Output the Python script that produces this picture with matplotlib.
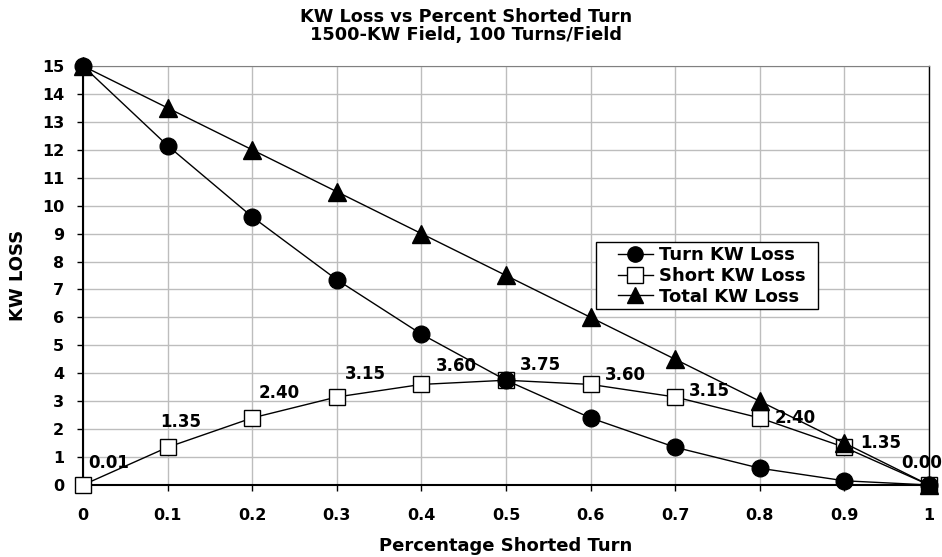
import matplotlib
matplotlib.use('Agg')
import matplotlib.pyplot as plt
from matplotlib.patches import Rectangle

# data
pct_shorted = [0.0, 0.1, 0.2, 0.3, 0.4, 0.5, 0.6, 0.7, 0.8, 0.9, 1.0]
turn_kw = [15.0, 12.15, 9.60, 7.35, 5.40, 3.75, 2.40, 1.35, 0.60, 0.15, 0.0]
short_kw = [0.0, 1.35, 2.40, 3.15, 3.60, 3.75, 3.60, 3.15, 2.40, 1.35, 0.0]
total_kw = [15.0, 13.5, 12.0, 10.5, 9.0, 7.5, 6.0, 4.5, 3.0, 1.5, 0.0]
short_labels = ['0.01', '1.35', '2.40', '3.15', '3.60', '3.75', '3.60', '3.15', '2.40', '1.35', '0.00']
x_ticks = [0, 0.1, 0.2, 0.3, 0.4, 0.5, 0.6, 0.7, 0.8, 0.9, 1]
x_tick_labels = ['0', '0.1', '0.2', '0.3', '0.4', '0.5', '0.6', '0.7', '0.8', '0.9', '1']

# label offsets in pixels (left edge, vertical centre) relative to each point
label_offsets = [(5, 22), (-7, 25), (6, 25), (8, 23), (14, 18), (14, 15),
                 (14, 9), (14, 6), (15, 0), (16, 4), (-28, 22)]

plt.rcParams['font.family'] = ['DejaVu Sans']
plt.rcParams['font.weight'] = 'bold'

fig = plt.figure(figsize=(9.42, 5.57), dpi=100)
ax = fig.add_axes([0.0881, 0.1293, 0.8981, 0.7522])

ax.plot(pct_shorted, short_kw, color='black', lw=1, marker='s', ms=11.5,
        mfc='white', mec='black', mew=1, clip_on=False, zorder=3,
        label='Short KW Loss')
ax.plot(pct_shorted, total_kw, color='black', lw=1, marker='^', ms=12.5,
        mfc='black', mec='black', clip_on=False, zorder=4,
        label='Total KW Loss')
ax.plot(pct_shorted, turn_kw, color='black', lw=1, marker='o', ms=12,
        mfc='black', mec='black', clip_on=False, zorder=5,
        label='Turn KW Loss')

for x, y, lab, off in zip(pct_shorted, short_kw, short_labels, label_offsets):
    ax.annotate(lab, (x, y), xytext=off, textcoords='offset pixels',
                ha='left', va='center', fontsize=12, fontweight='bold',
                zorder=6, annotation_clip=False)

ax.set_xlim(0, 1)
ax.set_ylim(0, 15)
ax.set_xticks(x_ticks)
ax.set_xticklabels(x_tick_labels)
ax.set_yticks(range(0, 16))
ax.tick_params(axis='both', labelsize=11.5, length=4.5, width=1, color='black')
ax.tick_params(axis='x', pad=12)
ax.tick_params(axis='y', pad=9)
for lbl in ax.get_xticklabels() + ax.get_yticklabels():
    lbl.set_fontweight('bold')

ax.grid(True, color='#bdbdbd', lw=1)
ax.set_axisbelow(True)
ax.spines['left'].set_linewidth(1.5)
ax.spines['bottom'].set_linewidth(1.5)
ax.spines['right'].set_linewidth(1)
ax.spines['top'].set_color('#808080')

ax.set_xlabel('Percentage Shorted Turn', fontsize=13, fontweight='bold', labelpad=10)
ax.set_ylabel('KW LOSS', fontsize=13, fontweight='bold')
ax.yaxis.set_label_coords(-0.066, 0.5)
fig.text(0.495, 0.9695, 'KW Loss vs Percent Shorted Turn', ha='center', va='center',
         fontsize=12.8, fontweight='bold')
fig.text(0.495, 0.937, '1500-KW Field, 100 Turns/Field', ha='center', va='center',
         fontsize=12.8, fontweight='bold')

handles, labels = ax.get_legend_handles_labels()
order = [2, 0, 1]
leg = ax.legend([handles[i] for i in order], [labels[i] for i in order],
                loc='center left', bbox_to_anchor=(0.632, 0.499),
                fontsize=13, frameon=False, borderpad=0, labelspacing=0.15,
                handlelength=1.95, handletextpad=0.35, borderaxespad=0)
for h in leg.legend_handles:
    h.set_markersize(11)
ax.add_patch(Rectangle((0.6064, 0.42), 0.2624, 0.16, transform=ax.transAxes,
                       facecolor='white', edgecolor='black', lw=1, zorder=7))
leg.set_zorder(8)

fig.savefig('out.png', dpi=100)
